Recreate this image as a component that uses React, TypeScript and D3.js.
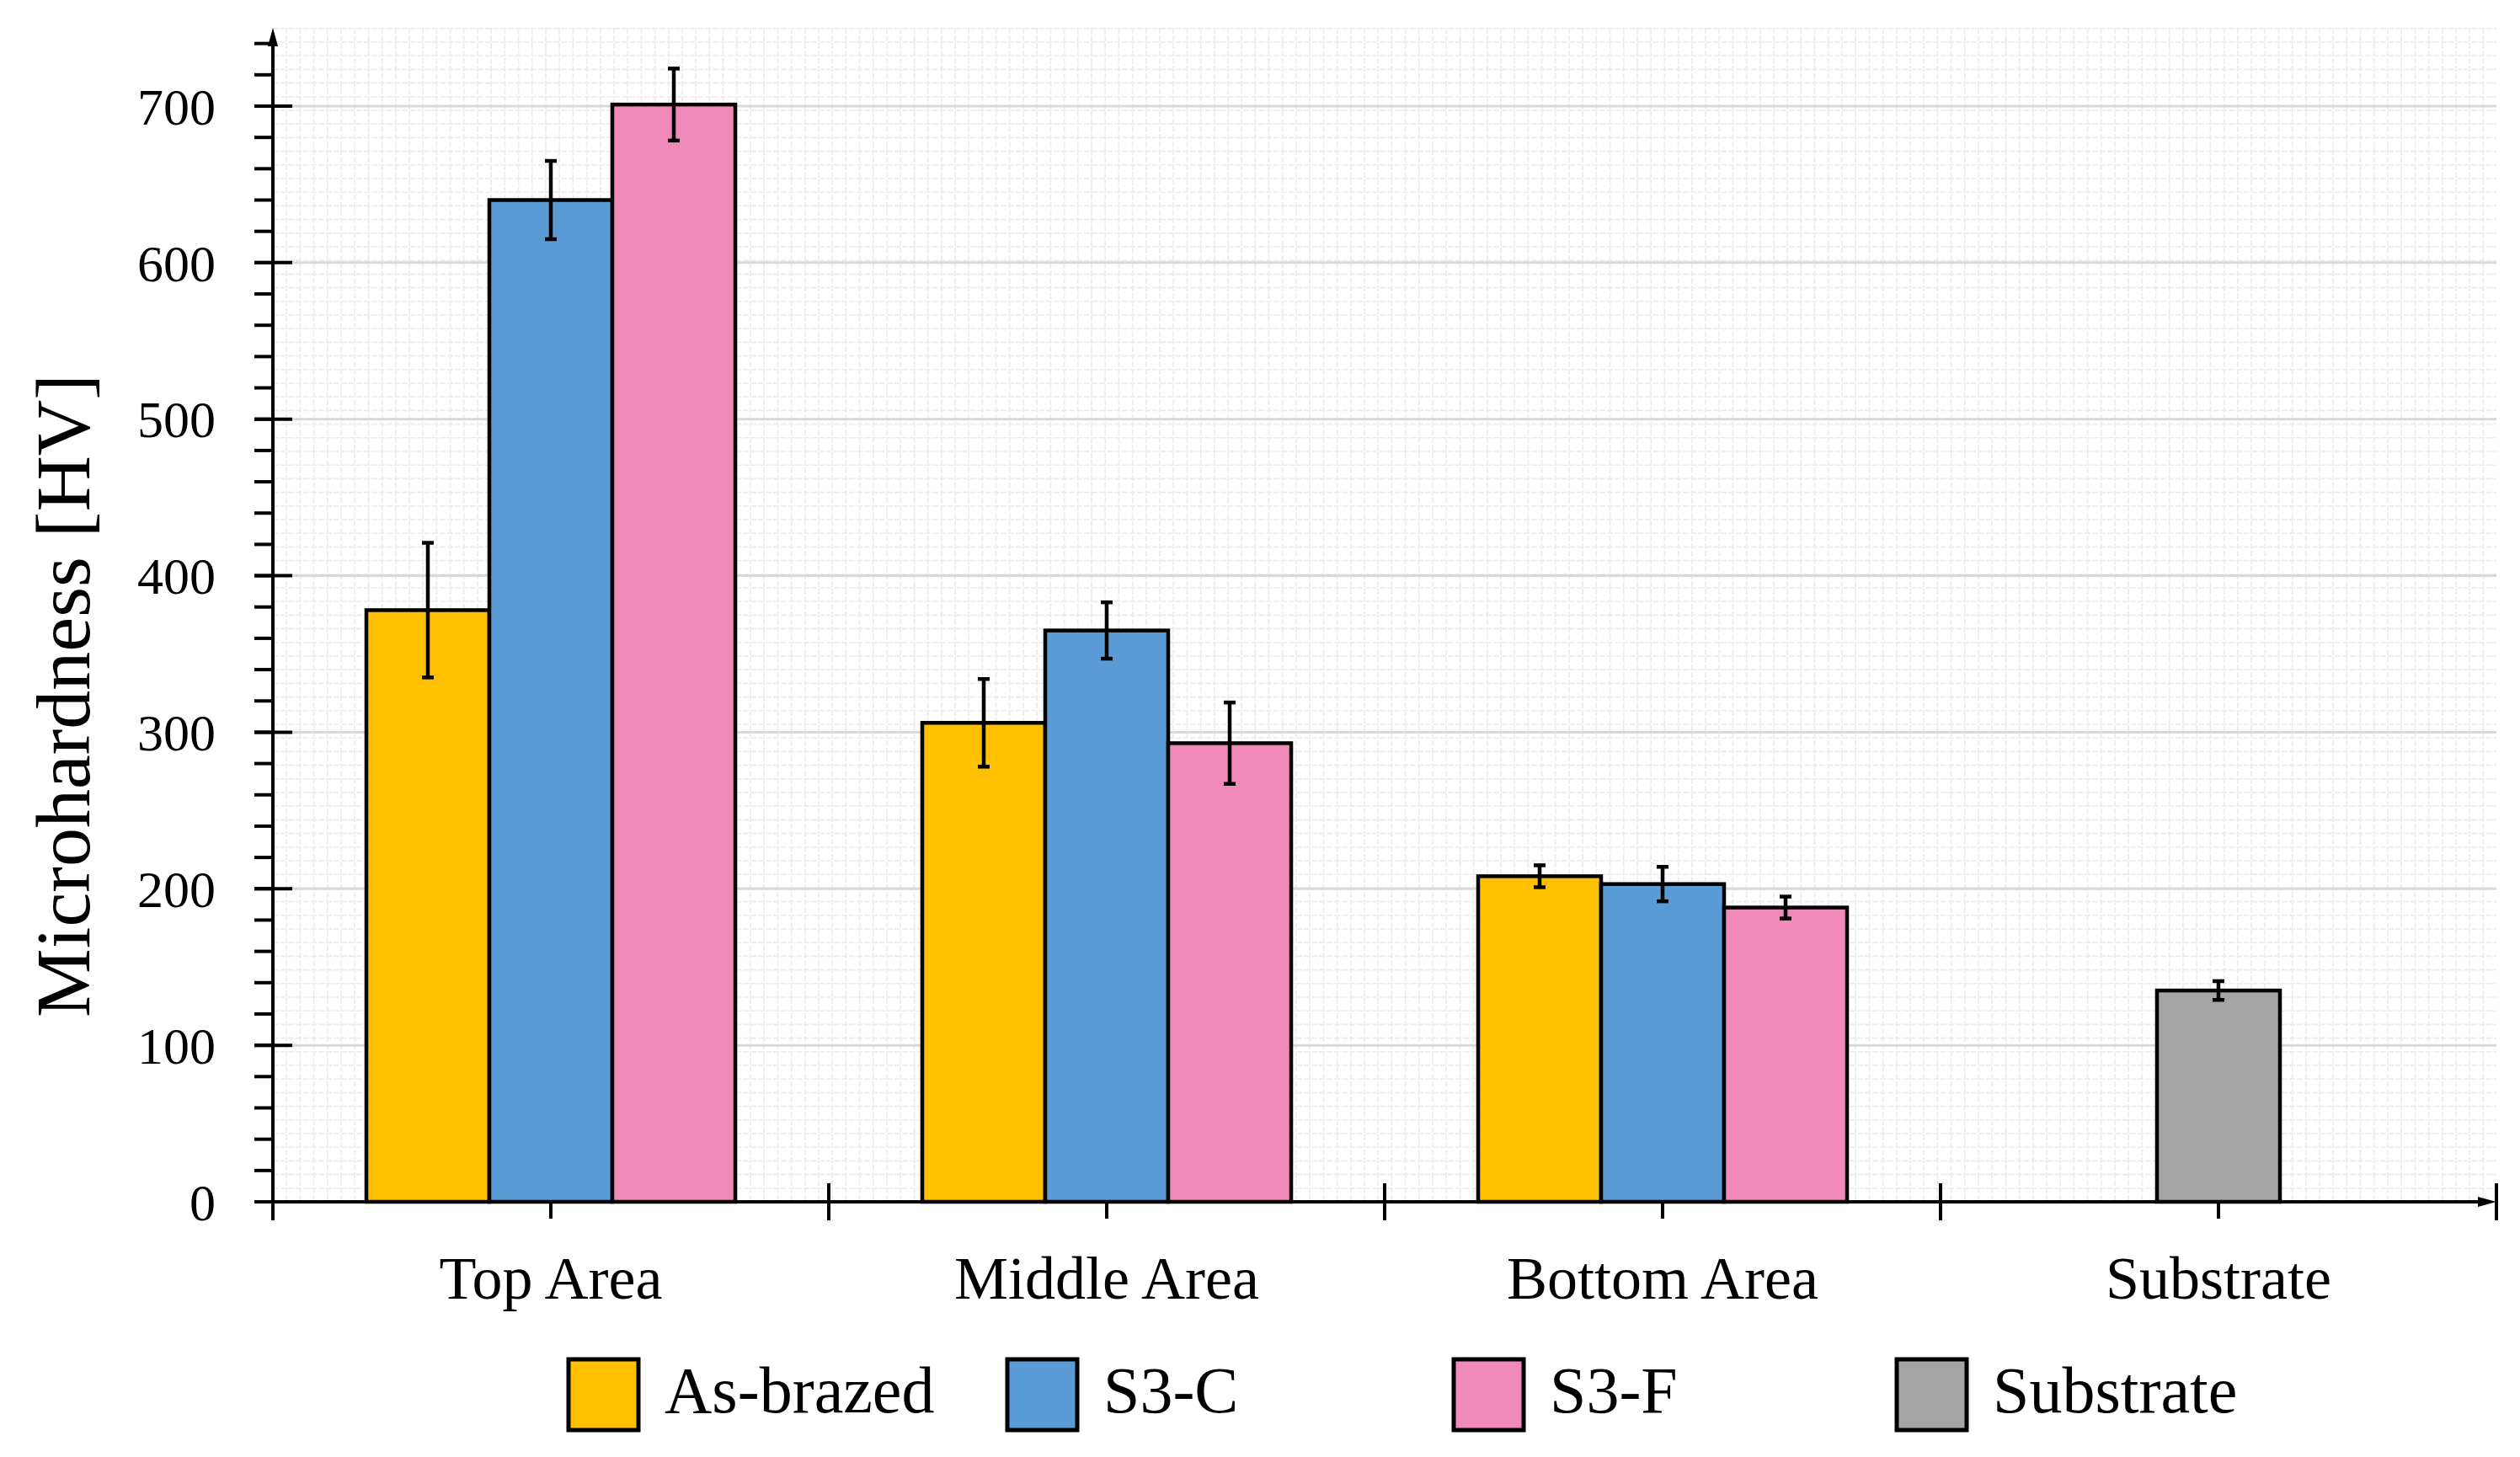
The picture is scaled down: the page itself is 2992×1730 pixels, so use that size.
import React from "react";
import * as d3 from "d3";

const categories = ["Top Area", "Middle Area", "Bottom Area", "Substrate"];
const seriesNames = ["As-brazed", "S3-C", "S3-F", "Substrate"];
const seriesColors = ["#FFC000", "#5B9BD5", "#F08BB9", "#A5A5A5"];
const asBrazed = [378, 306, 208];
const asBrazedErr = [43, 28, 7];
const s3c = [640, 365, 203];
const s3cErr = [25, 18, 11];
const s3f = [701, 293, 188];
const s3fErr = [23, 26, 7];
const substrate = [135];
const substrateErr = [6];
const yTicks = [0, 100, 200, 300, 400, 500, 600, 700];

const W = 2992;
const H = 1730;
const X0 = 324;
const X1 = 2964;
const Y0 = 1427;
const FONT = "'Liberation Serif', 'Times New Roman', serif";

type Bar = { cat: string; series: number; value: number; err: number };

const bars: Bar[] = [];
[0, 1, 2].forEach((c) => {
  bars.push({ cat: categories[c], series: 0, value: asBrazed[c], err: asBrazedErr[c] });
  bars.push({ cat: categories[c], series: 1, value: s3c[c], err: s3cErr[c] });
  bars.push({ cat: categories[c], series: 2, value: s3f[c], err: s3fErr[c] });
});
bars.push({ cat: categories[3], series: 3, value: substrate[0], err: substrateErr[0] });

export default function App() {
  const y = d3.scaleLinear().domain([0, 700]).range([Y0, 126]);
  const x = d3.scaleBand<string>().domain(categories).range([X0, X1]).padding(0);
  const barW = 146;
  const yTop = y(750);

  const minorY = d3.range(0, 751, 20);
  const gridStep = 16.2;
  const gridXs = d3.range(X0 + gridStep, X1, gridStep);
  const gridYs = d3.range(Y0 - gridStep, yTop, -gridStep);

  const barX = (b: Bar) => {
    const members = bars.filter((o) => o.cat === b.cat).map((o) => o.series);
    const inner = d3
      .scaleBand<number>()
      .domain(members)
      .range([0, barW * members.length]);
    const start = (x(b.cat) as number) + x.bandwidth() / 2 - (barW * members.length) / 2;
    return start + (inner(b.series) as number);
  };

  const legendX = [675, 1196, 1726, 2252];

  return (
    <svg
      width={W}
      height={H}
      viewBox={`0 0 ${W} ${H}`}
      style={{ position: "absolute", left: 0, top: 0, display: "block", background: "#fff" }}
    >
      <rect x={0} y={0} width={W} height={H} fill="#fff" />
      {/* minor background grid */}
      <g stroke="#ececec" strokeWidth={1.6}>
        {gridXs.map((gx, i) => (
          <line key={"gx" + i} x1={gx} x2={gx} y1={yTop} y2={Y0} strokeDasharray="7 2" />
        ))}
        {gridYs.map((gy, i) => (
          <line key={"gy" + i} x1={X0} x2={X1} y1={gy} y2={gy} strokeDasharray="7 2" />
        ))}
      </g>
      {/* major gridlines */}
      <g stroke="#d9d9d9" strokeWidth={3}>
        {yTicks.filter((t) => t > 0).map((t) => (
          <line key={"mg" + t} x1={X0} x2={X1} y1={y(t)} y2={y(t)} />
        ))}
      </g>
      {/* bars */}
      <g>
        {bars.map((b, i) => (
          <rect
            key={"b" + i}
            x={barX(b)}
            y={y(b.value)}
            width={barW}
            height={Y0 - y(b.value)}
            fill={seriesColors[b.series]}
            stroke="#000"
            strokeWidth={4.5}
          />
        ))}
      </g>
      {/* error bars */}
      <g stroke="#000" strokeWidth={4.5}>
        {bars.map((b, i) => {
          const cx = barX(b) + barW / 2;
          return (
            <g key={"e" + i}>
              <line x1={cx} x2={cx} y1={y(b.value + b.err)} y2={y(b.value - b.err)} />
              <line x1={cx - 7} x2={cx + 7} y1={y(b.value + b.err)} y2={y(b.value + b.err)} />
              <line x1={cx - 7} x2={cx + 7} y1={y(b.value - b.err)} y2={y(b.value - b.err)} />
            </g>
          );
        })}
      </g>
      {/* y axis */}
      <g stroke="#000">
        <line x1={X0} x2={X0} y1={Y0 + 22} y2={yTop + 8} strokeWidth={4} />
        {minorY.map((t) => (
          <line key={"my" + t} x1={X0 - 22} x2={X0} y1={y(t)} y2={y(t)} strokeWidth={4} />
        ))}
        {yTicks.map((t) => (
          <line key={"My" + t} x1={X0 - 22} x2={X0 + 23} y1={y(t)} y2={y(t)} strokeWidth={4} />
        ))}
      </g>
      <path d={`M${X0 - 6},${yTop + 22} L${X0},${yTop} L${X0 + 6},${yTop + 22} Z`} fill="#000" />
      {/* x axis */}
      <g stroke="#000">
        <line x1={X0 - 20} x2={X1 - 8} y1={Y0} y2={Y0} strokeWidth={4} />
        {d3.range(0, categories.length + 1).map((i) => {
          const tx = X0 + i * x.bandwidth();
          return (
            <line
              key={"xt" + i}
              x1={tx}
              x2={tx}
              y1={i === 0 ? Y0 : Y0 - 22}
              y2={Y0 + 22}
              strokeWidth={4}
            />
          );
        })}
        {categories.map((c) => {
          const tx = (x(c) as number) + x.bandwidth() / 2;
          return <line key={"ct" + c} x1={tx} x2={tx} y1={Y0} y2={Y0 + 20} strokeWidth={4} />;
        })}
      </g>
      <path d={`M${X1 - 22},${Y0 - 6} L${X1},${Y0} L${X1 - 22},${Y0 + 6} Z`} fill="#000" />
      {/* y tick labels */}
      <g fontFamily={FONT} fontSize={62} fill="#000" textAnchor="end">
        {yTicks.map((t) => (
          <text key={"yl" + t} x={256} y={y(t)} dy="0.35em">
            {t}
          </text>
        ))}
      </g>
      {/* category labels */}
      <g fontFamily={FONT} fontSize={72} fill="#000" textAnchor="middle">
        {categories.map((c) => (
          <text key={"cl" + c} x={(x(c) as number) + x.bandwidth() / 2} y={1542}>
            {c}
          </text>
        ))}
      </g>
      {/* y title */}
      <text
        fontFamily={FONT}
        fontSize={92}
        fill="#000"
        textAnchor="middle"
        transform={`translate(106, 826) rotate(-90)`}
      >
        Microhardness [HV]
      </text>
      {/* legend */}
      <g fontFamily={FONT} fontSize={78} fill="#000">
        {seriesNames.map((n, i) => (
          <g key={"lg" + n}>
            <rect
              x={legendX[i]}
              y={1614}
              width={83}
              height={84}
              fill={seriesColors[i]}
              stroke="#000"
              strokeWidth={5}
            />
            <text x={legendX[i] + 114} y={1677}>
              {n}
            </text>
          </g>
        ))}
      </g>
    </svg>
  );
}
